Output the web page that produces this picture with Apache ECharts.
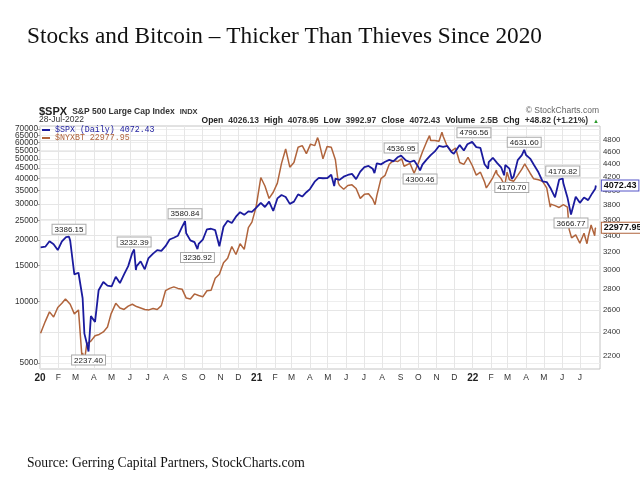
<!DOCTYPE html>
<html><head><meta charset="utf-8">
<script src="https://cdn.jsdelivr.net/npm/echarts@6/dist/echarts.min.js"></script>
<style>html,body{margin:0;padding:0;background:#fff}#c{width:640px;height:480px}</style>
</head><body><div id="c"></div><script>
// ---- S&P 500 ($SPX) closes (right axis, log) ----
const spxDates = ['2020-01-02','2020-01-10','2020-01-17','2020-01-24','2020-01-31','2020-02-07','2020-02-14','2020-02-19','2020-02-21','2020-02-28','2020-03-06','2020-03-13','2020-03-16','2020-03-20','2020-03-23','2020-03-27','2020-04-03','2020-04-09','2020-04-17','2020-04-24','2020-05-01','2020-05-08','2020-05-15','2020-05-22','2020-05-29','2020-06-05','2020-06-08','2020-06-11','2020-06-12','2020-06-19','2020-06-26','2020-07-02','2020-07-10','2020-07-17','2020-07-24','2020-07-31','2020-08-07','2020-08-14','2020-08-21','2020-08-28','2020-09-02','2020-09-04','2020-09-11','2020-09-18','2020-09-23','2020-09-25','2020-10-02','2020-10-09','2020-10-16','2020-10-23','2020-10-30','2020-11-06','2020-11-13','2020-11-20','2020-11-27','2020-12-04','2020-12-11','2020-12-18','2020-12-24','2020-12-31',
'2021-01-08','2021-01-15','2021-01-22','2021-01-29','2021-02-05','2021-02-12','2021-02-19','2021-02-26','2021-03-05','2021-03-12','2021-03-19','2021-03-26','2021-04-01','2021-04-09','2021-04-16','2021-04-23','2021-04-30','2021-05-07','2021-05-12','2021-05-14','2021-05-21','2021-05-28','2021-06-04','2021-06-11','2021-06-18','2021-06-25','2021-07-02','2021-07-09','2021-07-16','2021-07-19','2021-07-23','2021-07-30','2021-08-06','2021-08-13','2021-08-20','2021-08-27','2021-09-02','2021-09-03','2021-09-10','2021-09-17','2021-09-24','2021-10-01','2021-10-04','2021-10-08','2021-10-15','2021-10-22','2021-10-29','2021-11-05','2021-11-12','2021-11-19','2021-11-26','2021-11-30','2021-12-03','2021-12-10','2021-12-17','2021-12-23','2021-12-31',
'2022-01-03','2022-01-07','2022-01-14','2022-01-21','2022-01-27','2022-01-28','2022-02-04','2022-02-11','2022-02-18','2022-02-23','2022-02-25','2022-03-04','2022-03-08','2022-03-11','2022-03-18','2022-03-25','2022-03-29','2022-04-01','2022-04-08','2022-04-14','2022-04-22','2022-04-29','2022-05-06','2022-05-13','2022-05-20','2022-05-27','2022-06-02','2022-06-03','2022-06-10','2022-06-16','2022-06-17','2022-06-24','2022-07-01','2022-07-08','2022-07-15','2022-07-22','2022-07-27','2022-07-28'];
const spxValues = [3257.85,3265.35,3329.62,3295.47,3225.52,3327.71,3380.16,3386.15,3337.75,2954.22,2972.37,2711.02,2386.13,2304.92,2237.40,2541.47,2488.65,2789.82,2874.56,2836.74,2830.71,2929.80,2863.70,2955.45,3044.31,3193.93,3232.39,3002.10,3041.31,3097.74,3009.05,3130.01,3185.04,3224.73,3215.63,3271.12,3351.28,3372.85,3397.16,3508.01,3580.84,3426.96,3340.97,3319.47,3236.92,3298.46,3348.44,3477.13,3483.81,3465.39,3269.96,3509.44,3585.15,3557.54,3638.35,3699.12,3663.46,3709.41,3703.06,3756.07,
3824.68,3768.25,3841.47,3714.24,3886.83,3934.83,3906.71,3811.15,3841.94,3943.34,3913.10,3974.54,4019.87,4128.80,4185.47,4180.17,4181.17,4232.60,4063.04,4173.85,4155.86,4204.11,4229.89,4247.44,4166.45,4280.70,4352.34,4369.55,4327.16,4258.49,4411.79,4395.26,4436.52,4468.00,4441.67,4509.37,4536.95,4535.43,4458.58,4432.99,4455.48,4357.04,4300.46,4391.34,4471.37,4544.90,4605.38,4697.53,4682.85,4697.96,4594.62,4567.00,4538.43,4712.02,4620.64,4725.79,4766.18,
4796.56,4677.03,4662.85,4397.94,4326.51,4431.85,4500.53,4418.64,4348.87,4225.50,4384.65,4328.87,4170.70,4204.31,4463.12,4543.06,4631.60,4545.86,4488.28,4392.59,4271.78,4131.93,4123.34,4023.89,3901.36,4158.24,4176.82,4108.54,3900.86,3666.77,3674.84,3911.74,3825.33,3899.38,3863.16,3961.63,4023.61,4072.43];

// ---- NYSE Bitcoin Index ($NYXBT) (left axis, log) ----
const btcDates = ['2020-01-02','2020-01-10','2020-01-17','2020-01-24','2020-01-31','2020-02-07','2020-02-13','2020-02-21','2020-02-28','2020-03-06','2020-03-12','2020-03-13','2020-03-16','2020-03-20','2020-03-27','2020-04-03','2020-04-10','2020-04-17','2020-04-24','2020-04-30','2020-05-08','2020-05-15','2020-05-22','2020-05-29','2020-06-05','2020-06-12','2020-06-19','2020-06-26','2020-07-03','2020-07-10','2020-07-17','2020-07-24','2020-07-31','2020-08-07','2020-08-14','2020-08-21','2020-08-28','2020-09-04','2020-09-11','2020-09-18','2020-09-25','2020-10-02','2020-10-09','2020-10-16','2020-10-23','2020-10-30','2020-11-06','2020-11-13','2020-11-20','2020-11-27','2020-12-04','2020-12-11','2020-12-18','2020-12-24','2020-12-31',
'2021-01-08','2021-01-15','2021-01-22','2021-01-29','2021-02-05','2021-02-12','2021-02-19','2021-02-26','2021-03-05','2021-03-12','2021-03-19','2021-03-26','2021-04-02','2021-04-09','2021-04-14','2021-04-16','2021-04-23','2021-04-30','2021-05-07','2021-05-14','2021-05-19','2021-05-21','2021-05-28','2021-06-04','2021-06-11','2021-06-18','2021-06-25','2021-07-02','2021-07-09','2021-07-16','2021-07-20','2021-07-23','2021-07-30','2021-08-06','2021-08-13','2021-08-20','2021-08-27','2021-09-03','2021-09-07','2021-09-10','2021-09-17','2021-09-24','2021-10-01','2021-10-08','2021-10-15','2021-10-20','2021-10-22','2021-10-29','2021-11-05','2021-11-10','2021-11-12','2021-11-19','2021-11-26','2021-12-03','2021-12-10','2021-12-17','2021-12-24','2021-12-31',
'2022-01-07','2022-01-14','2022-01-21','2022-01-24','2022-01-28','2022-02-04','2022-02-10','2022-02-11','2022-02-18','2022-02-24','2022-02-28','2022-03-04','2022-03-11','2022-03-18','2022-03-25','2022-03-30','2022-04-01','2022-04-08','2022-04-14','2022-04-22','2022-04-29','2022-05-06','2022-05-12','2022-05-13','2022-05-20','2022-05-27','2022-06-03','2022-06-10','2022-06-13','2022-06-17','2022-06-24','2022-07-01','2022-07-08','2022-07-13','2022-07-15','2022-07-20','2022-07-22','2022-07-26','2022-07-27','2022-07-28'];
const btcValues = [7000,8000,8900,8400,9350,9800,10300,9700,8700,9100,5300,5600,5100,6200,6400,6800,6900,7100,7500,8700,9800,9300,9150,9500,9700,9450,9300,9150,9100,9250,9150,9550,11300,11600,11800,11600,11500,10400,10300,10900,10700,10550,11300,11350,13000,13600,15500,16300,18600,17000,19200,18000,23000,24500,29000,
40500,36800,32000,34300,38000,47500,55900,45500,48000,57000,58000,53000,59000,58000,63500,61000,50000,57500,57000,49500,38000,37000,35500,37000,37300,35800,32000,33500,33700,31800,29800,33000,40000,41500,47000,49000,48500,50000,46000,45000,47500,42500,47500,54000,60500,65000,61500,61500,61000,67500,64500,57500,54500,56500,48000,47000,50800,46500,
41600,43000,38500,36000,37500,40500,44000,42300,40000,37000,43000,39500,38800,41500,44500,47300,46000,42500,39900,39500,38800,36000,29000,30000,29500,28900,29800,29000,22500,20500,21200,19300,21600,19200,20700,23700,22700,21000,22800,22977.95];

// ---- axes ticks ----
const btcTicks = [5000,10000,15000,20000,25000,30000,35000,40000,45000,50000,55000,60000,65000,70000];
const spxTicks = [2200,2400,2600,2800,3000,3200,3400,3600,3800,4000,4200,4400,4600,4800];
const monthTicks = ['2020-01-01','2020-02-01','2020-03-01','2020-04-01','2020-05-01','2020-06-01','2020-07-01','2020-08-01','2020-09-01','2020-10-01','2020-11-01','2020-12-01','2021-01-01','2021-02-01','2021-03-01','2021-04-01','2021-05-01','2021-06-01','2021-07-01','2021-08-01','2021-09-01','2021-10-01','2021-11-01','2021-12-01','2022-01-01','2022-02-01','2022-03-01','2022-04-01','2022-05-01','2022-06-01','2022-07-01'];
const monthLabels = ['20','F','M','A','M','J','J','A','S','O','N','D','21','F','M','A','M','J','J','A','S','O','N','D','22','F','M','A','M','J','J'];

// ---- annotated SPX closes ----
const annotDates = ['2020-02-19','2020-03-23','2020-06-08','2020-09-02','2020-09-23','2021-09-02','2021-10-04','2022-01-03','2022-03-08','2022-03-29','2022-06-02','2022-06-16'];
const annotValues = [3386.15,2237.40,3232.39,3580.84,3236.92,4536.95,4300.46,4796.56,4170.70,4631.60,4176.82,3666.77];
const annotSide = ['top','bottom','top','top','bottom','top','bottom','top','bottom','top','top','bottom'];

function ts(s){const p=s.split('-');return Date.UTC(+p[0],+p[1]-1,+p[2]);}
const monthTs = monthTicks.map(ts);
const labelMap = {}; monthTs.forEach((t,i)=>labelMap[t]=monthLabels[i]);

const blue = '#1b1b9e', brown = '#b0643c';
const spxLast = spxValues[spxValues.length-1], btcLast = btcValues[btcValues.length-1];
const plain = v => String(Math.round(v));
// ticks that crowd each other are drawn on a twin axis so none is hidden
const btcTicksA = btcTicks.filter((v,i)=>i%2===(btcTicks.length-1)%2 || i<btcTicks.length-3);
const btcTicksB = btcTicks.filter(v=>btcTicksA.indexOf(v)<0);
const BTC_MIN = 4674, BTC_MAX = 72400;

const chart = echarts.init(document.getElementById('c'), null, {renderer:'canvas'});
chart.setOption({
  animation:false,
  backgroundColor:'#fff',
  title:[
    {text:'Stocks and Bitcoin \u2013 Thicker Than Thieves Since 2020', left:27, top:25, padding:0,
     textStyle:{fontFamily:'Liberation Serif', fontSize:23.3, fontWeight:'normal', color:'#111'}},
    {text:'Source: Gerring Capital Partners, StockCharts.com', left:27, top:456, padding:0,
     textStyle:{fontFamily:'Liberation Serif', fontSize:13.6, fontWeight:'normal', color:'#111'}},
    {text:'{a|$SPX} {b|S&P 500 Large Cap Index} {c|INDX}', left:39, top:103, padding:0,
     textStyle:{rich:{a:{fontFamily:'Arial',fontSize:11,fontWeight:'bold',color:'#222'},
                      b:{fontFamily:'Arial',fontSize:8.5,color:'#333'},
                      c:{fontFamily:'Arial',fontSize:7.5,color:'#333'}}}},
    {text:'28-Jul-2022', left:39, top:115, padding:0, textStyle:{fontFamily:'Arial',fontSize:8.5,fontWeight:'normal',color:'#333'}},
    {text:'\u00a9 StockCharts.com', right:41, top:106, padding:0, textStyle:{fontFamily:'Arial',fontSize:8.5,fontWeight:'normal',color:'#666'}},
    {text:'{l|Open} {v|4026.13} {l|High} {v|4078.95} {l|Low} {v|3992.97} {l|Close} {v|4072.43} {l|Volume} {v|2.5B} {l|Chg} {v|+48.82 (+1.21%)} {g|\u25b2}', right:41, top:112, padding:0,
     textStyle:{rich:{l:{fontFamily:'Arial',fontSize:8.5,fontWeight:'bold',color:'#222'},
                      v:{fontFamily:'Arial',fontSize:8.5,color:'#333'},
                      g:{fontFamily:'Arial',fontSize:6,color:'#2a9a2a'}}}}
  ],
  legend:{
    orient:'vertical', left:42, top:126, padding:0, itemGap:0, itemWidth:8, itemHeight:2, icon:'rect',
    data:[{name:'$SPX (Daily)', textStyle:{color:blue}},{name:'$NYXBT', textStyle:{color:brown}}],
    textStyle:{fontFamily:'Liberation Mono', fontSize:8.3},
    formatter:function(n){return n==='$SPX (Daily)' ? n+' '+spxLast.toFixed(2) : n+' '+btcLast.toFixed(2);}
  },
  grid:{left:40, right:40, top:126, bottom:111, show:true, borderColor:'#c4c4c4', borderWidth:1},
  xAxis:{
    type:'value', min:ts('2020-01-01'), max:ts('2022-08-04'),
    axisLine:{show:false}, axisTick:{show:false, customValues:monthTs},
    splitLine:{show:true, lineStyle:{color:'#e6e6e6', width:1}},
    axisLabel:{customValues:monthTs, margin:4, fontFamily:'Arial', fontSize:8.5, color:'#333',
      showMinLabel:true, showMaxLabel:true, hideOverlap:false,
      formatter:function(v){const l=labelMap[v]; if(l===undefined) return ''; return (l.length===2)?'{y|'+l+'}':l;},
      rich:{y:{fontFamily:'Arial',fontSize:10,fontWeight:'bold',color:'#222'}}}
  },
  yAxis:[
    {type:'log', logBase:10, min:BTC_MIN, max:BTC_MAX, position:'left',
     axisLine:{show:false},
     axisTick:{show:true, customValues:btcTicksA, length:2, lineStyle:{color:'#aaa'}},
     splitLine:{show:true, lineStyle:{color:'#eeeeee'}},
     axisLabel:{customValues:btcTicksA, margin:2, fontFamily:'Arial', fontSize:8.3, color:'#333', formatter:plain,
       showMinLabel:true, showMaxLabel:true, hideOverlap:false}},
    {type:'log', logBase:10, min:2100, max:5048, position:'right',
     axisLine:{show:false},
     axisTick:{show:false, customValues:spxTicks},
     splitLine:{show:true, lineStyle:{color:'#e6e6e6'}},
     axisLabel:{customValues:spxTicks, margin:3, fontFamily:'Arial', fontSize:7.8, color:'#333', formatter:plain,
       showMinLabel:true, showMaxLabel:true, hideOverlap:false}},
    {type:'log', logBase:10, min:BTC_MIN, max:BTC_MAX, position:'left', offset:0,
     axisLine:{show:false},
     axisTick:{show:true, customValues:btcTicksB, length:2, lineStyle:{color:'#aaa'}},
     splitLine:{show:true, lineStyle:{color:'#eeeeee'}},
     axisLabel:{customValues:btcTicksB, margin:2, fontFamily:'Arial', fontSize:8.3, color:'#333', formatter:plain,
       showMinLabel:true, showMaxLabel:true, hideOverlap:false}}
  ],
  series:[
    {name:'$NYXBT', type:'line', yAxisIndex:0, showSymbol:false, z:2,
     data:btcDates.map((d,i)=>[ts(d),btcValues[i]]),
     lineStyle:{color:brown, width:1.5}, itemStyle:{color:brown},
     endLabel:{show:true, formatter:()=>btcLast.toFixed(2), backgroundColor:'#fff', borderColor:brown, borderWidth:1,
       padding:[1,2,0,2], fontFamily:'Arial', fontSize:9, fontWeight:'bold', color:'#111', distance:6}},
    {name:'$SPX (Daily)', type:'line', yAxisIndex:1, showSymbol:false, z:3,
     data:spxDates.map((d,i)=>[ts(d),spxValues[i]]),
     lineStyle:{color:blue, width:1.8}, itemStyle:{color:blue},
     endLabel:{show:true, formatter:()=>spxLast.toFixed(2), backgroundColor:'#fff', borderColor:'#5555c8', borderWidth:1,
       padding:[1,2,0,2], fontFamily:'Arial', fontSize:9, fontWeight:'bold', color:'#111', distance:6},
     markPoint:{symbol:'circle', symbolSize:0, silent:true,
       data:annotDates.map((d,i)=>({coord:[ts(d),annotValues[i]], value:annotValues[i],
         label:{position:annotSide[i], distance: annotSide[i]==='top'?3:4}})),
       label:{show:true, formatter:p=>Number(p.value).toFixed(2), backgroundColor:'#fff', borderColor:'#aaa', borderWidth:1,
         padding:[1,2,0,2], fontFamily:'Arial', fontSize:8, color:'#222'}}}
  ]
});
</script></body></html>
